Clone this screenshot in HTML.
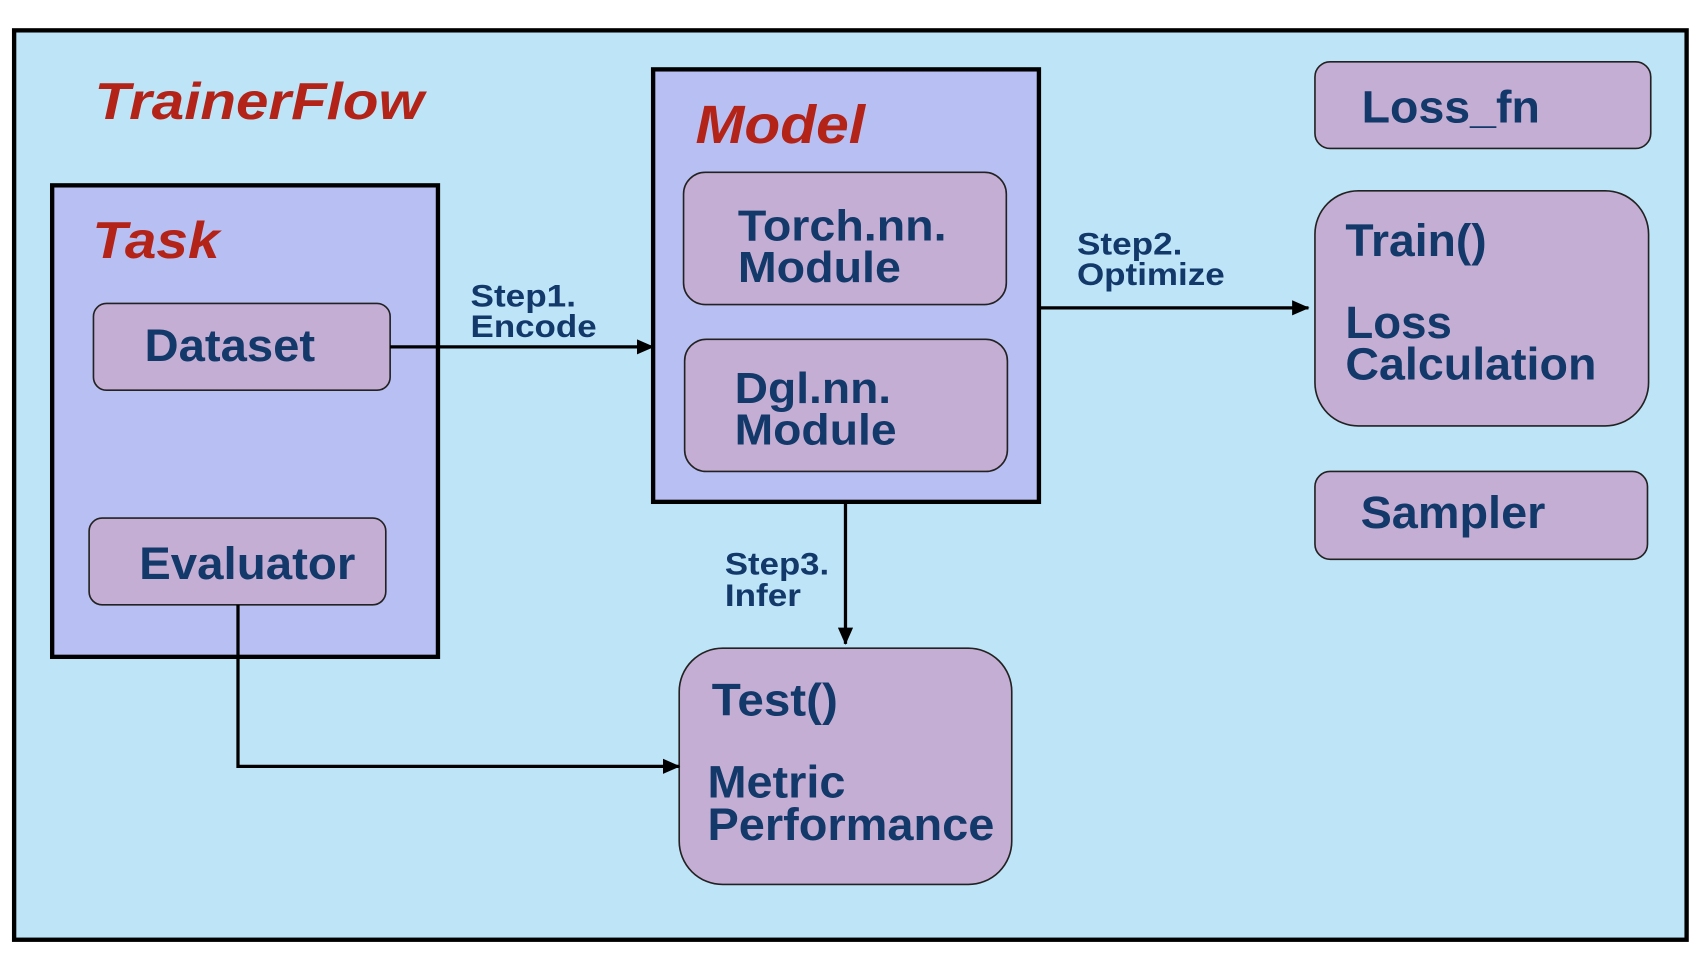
<!DOCTYPE html>
<html><head><style>html,body{margin:0;padding:0;background:#fff}svg{display:block}
text{font-family:"Liberation Sans",Arial,sans-serif;font-weight:bold;fill:#13386a}
.r{fill:#b32318;font-style:italic}</style></head><body>
<svg width="1704" height="956" viewBox="0 0 1568 882" preserveAspectRatio="none">
<defs><marker id="a" markerWidth="16" markerHeight="14" refX="15" refY="7" orient="auto" markerUnits="userSpaceOnUse"><path d="M0,0 L16,7 L0,14 z" fill="#000"/></marker></defs>
<rect x="13" y="28" width="1539" height="839" fill="#bde4f7" stroke="#000" stroke-width="4"/>
<text x="87" y="110" font-size="48" class="r" textLength="303" lengthAdjust="spacingAndGlyphs">TrainerFlow</text>
<rect x="48" y="171" width="355" height="435" fill="#b8bff2" stroke="#000" stroke-width="4"/>
<text x="85" y="238" font-size="48" class="r" textLength="117" lengthAdjust="spacingAndGlyphs">Task</text>
<rect x="86" y="280" width="273" height="80" rx="12" fill="#c5aed3" stroke="#222" stroke-width="1.5"/>
<text x="133" y="333" font-size="42" textLength="157" lengthAdjust="spacingAndGlyphs">Dataset</text>
<rect x="82" y="478" width="273" height="80" rx="12" fill="#c5aed3" stroke="#222" stroke-width="1.5"/>
<text x="128" y="534" font-size="42" textLength="199" lengthAdjust="spacingAndGlyphs">Evaluator</text>
<rect x="601" y="64" width="355" height="399" fill="#b8bff2" stroke="#000" stroke-width="4"/>
<text x="640" y="132" font-size="50" class="r" textLength="156" lengthAdjust="spacingAndGlyphs">Model</text>
<rect x="629" y="159" width="297" height="122" rx="20" fill="#c5aed3" stroke="#222" stroke-width="1.5"/>
<text x="679" y="222" font-size="40" textLength="192" lengthAdjust="spacingAndGlyphs">Torch.nn.</text><text x="679" y="260" font-size="40" textLength="150" lengthAdjust="spacingAndGlyphs">Module</text>
<rect x="630" y="313" width="297" height="122" rx="20" fill="#c5aed3" stroke="#222" stroke-width="1.5"/>
<text x="676" y="372" font-size="40" textLength="144" lengthAdjust="spacingAndGlyphs">Dgl.nn.</text><text x="676" y="410" font-size="40" textLength="149" lengthAdjust="spacingAndGlyphs">Module</text>
<rect x="1210" y="57" width="309" height="80" rx="14" fill="#c5aed3" stroke="#222" stroke-width="1.5"/>
<text x="1253" y="113" font-size="42" textLength="164" lengthAdjust="spacingAndGlyphs">Loss_fn</text>
<rect x="1210" y="176" width="307" height="217" rx="40" fill="#c5aed3" stroke="#222" stroke-width="1.5"/>
<text x="1238" y="236" font-size="42" textLength="130" lengthAdjust="spacingAndGlyphs">Train()</text>
<text x="1238" y="312" font-size="42" textLength="98" lengthAdjust="spacingAndGlyphs">Loss</text><text x="1238" y="350" font-size="42" textLength="231" lengthAdjust="spacingAndGlyphs">Calculation</text>
<rect x="1210" y="435" width="306" height="81" rx="14" fill="#c5aed3" stroke="#222" stroke-width="1.5"/>
<text x="1252" y="487" font-size="42" textLength="170" lengthAdjust="spacingAndGlyphs">Sampler</text>
<rect x="625" y="598" width="306" height="218" rx="40" fill="#c5aed3" stroke="#222" stroke-width="1.5"/>
<text x="655" y="660" font-size="42" textLength="116" lengthAdjust="spacingAndGlyphs">Test()</text>
<text x="651" y="736" font-size="42" textLength="127" lengthAdjust="spacingAndGlyphs">Metric</text><text x="651" y="775" font-size="42" textLength="264" lengthAdjust="spacingAndGlyphs">Performance</text>
<g stroke="#000" stroke-width="3" fill="none">
<line x1="359" y1="320" x2="601" y2="320" marker-end="url(#a)"/>
<line x1="956" y1="284" x2="1204" y2="284" marker-end="url(#a)"/>
<line x1="778" y1="463" x2="778" y2="594" marker-end="url(#a)"/>
<polyline points="219,558 219,707 625,707" marker-end="url(#a)"/>
</g>
<text x="433" y="283" font-size="29" textLength="97" lengthAdjust="spacingAndGlyphs">Step1.</text><text x="433" y="311" font-size="29" textLength="116" lengthAdjust="spacingAndGlyphs">Encode</text>
<text x="991" y="235" font-size="29" textLength="97" lengthAdjust="spacingAndGlyphs">Step2.</text><text x="991" y="263" font-size="29" textLength="136" lengthAdjust="spacingAndGlyphs">Optimize</text>
<text x="667" y="530" font-size="29" textLength="96" lengthAdjust="spacingAndGlyphs">Step3.</text><text x="667" y="559" font-size="29" textLength="70" lengthAdjust="spacingAndGlyphs">Infer</text>
</svg></body></html>
